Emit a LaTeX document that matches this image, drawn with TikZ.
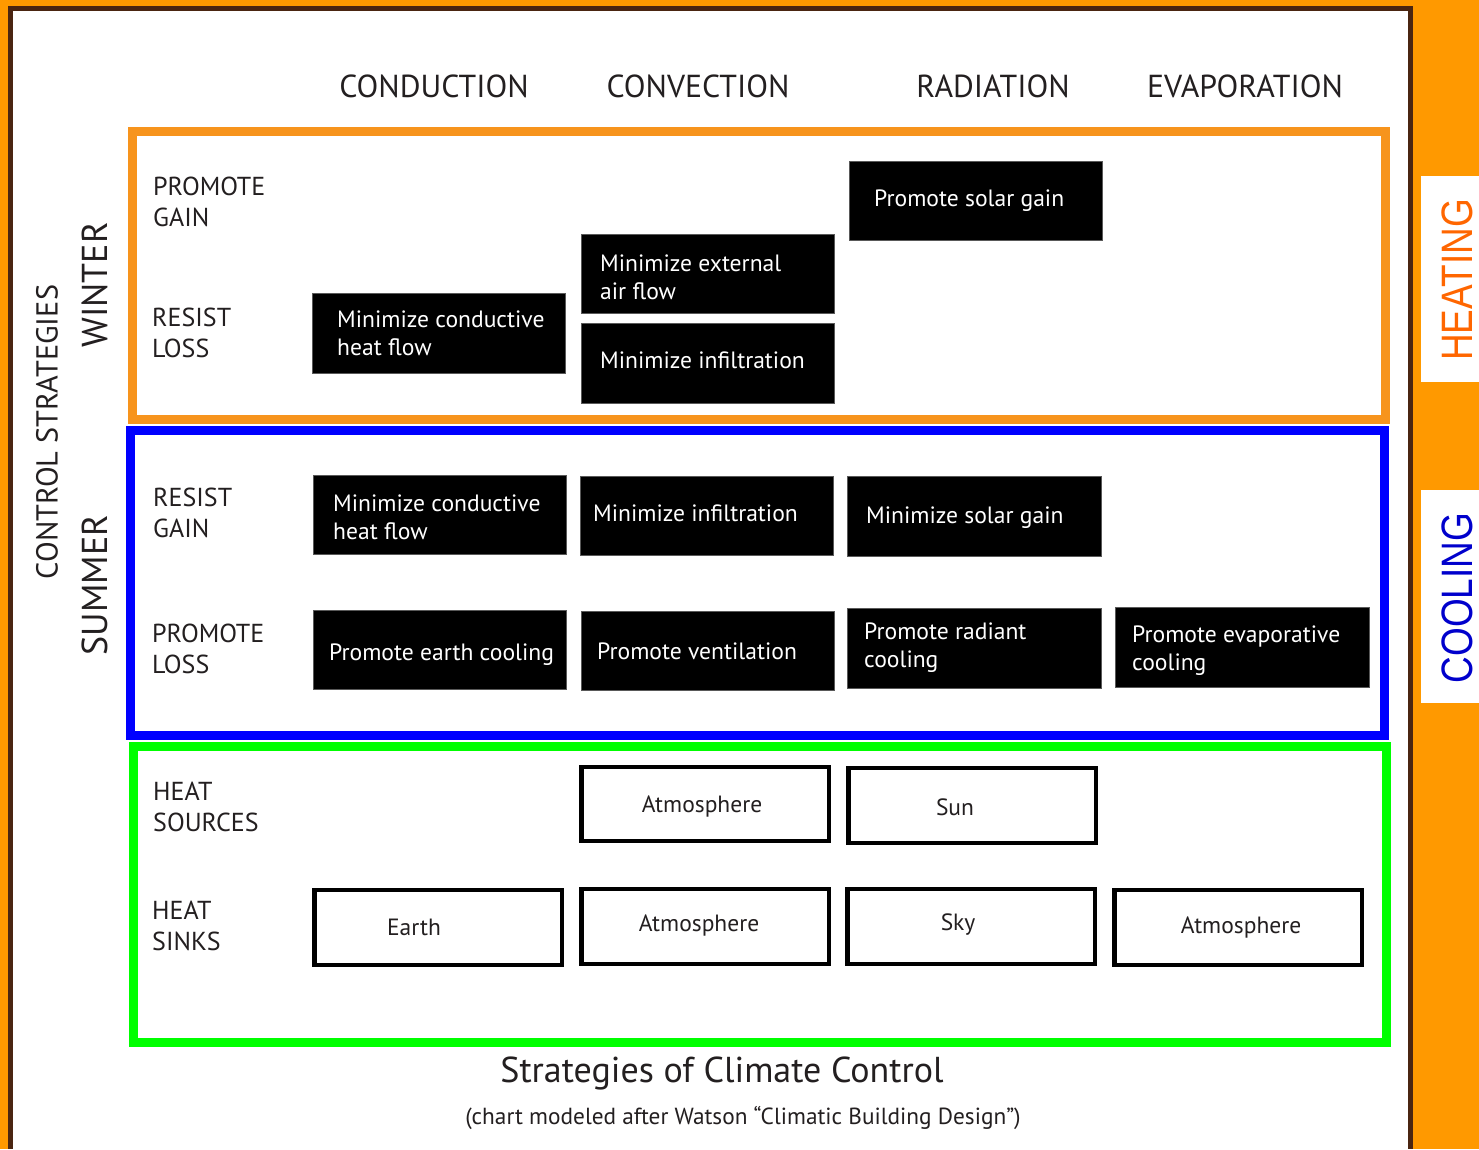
\documentclass[tikz,border=0pt]{standalone}
\usepackage{fontspec}
\setmainfont{PT Sans}
\newfontfamily\arialfont{Liberation Sans}
\usepackage{graphicx}
\definecolor{bgorange}{RGB}{255,153,0}
\definecolor{framebrown}{RGB}{74,37,17}
\definecolor{winterorange}{RGB}{247,148,29}
\definecolor{summerblue}{RGB}{0,0,255}
\definecolor{sinkgreen}{RGB}{0,255,0}
\definecolor{heatcol}{RGB}{255,102,0}
\definecolor{coolcol}{RGB}{0,0,204}
\definecolor{txt}{RGB}{35,31,32}
\begin{document}
\begin{tikzpicture}[x=1pt,y=-1pt,
  blackbox/.style={fill=black, draw=black!65, line width=0.8pt, inner sep=0pt, minimum width=253pt, minimum height=80pt},
  whitebox/.style={fill=white, draw=black, line width=4.5pt, inner sep=0pt, minimum width=247.5pt, minimum height=74pt},
  boxtext/.style={text=white, font=\fontsize{23.6}{28}\selectfont, align=left, anchor=west, inner sep=0pt},
  sinktext/.style={text=txt, font=\fontsize{23.5}{28}\selectfont, inner sep=0pt},
  rowlabel/.style={text=txt, font=\fontsize{26}{31}\selectfont, align=left, anchor=west, inner sep=0pt},
  header/.style={text=txt, font=\fontsize{31.8}{36}\selectfont, inner sep=0pt},
  sidelabel/.style={text=txt, rotate=90, inner sep=0pt},
  section/.style={line width=9pt}
]
% background and frame
\fill[bgorange] (0,0) rectangle (1479,1149);
\fill[framebrown] (8,6) rectangle (1413,1149);
\fill[white] (13,11) rectangle (1408,1149);
% side tabs
\fill[white] (1421,176) rectangle (1479,382);
\fill[white] (1421,490) rectangle (1479,703);
\node[rotate=90, text=heatcol, inner sep=0pt, font=\arialfont\fontsize{44}{50}\selectfont] (heating) at (1457,280) {\scalebox{0.84}[1]{HEATING}};
\node[rotate=90, text=coolcol, inner sep=0pt, font=\arialfont\fontsize{44}{50}\selectfont] (cooling) at (1457,598) {\scalebox{0.84}[1]{COOLING}};
% section frames
\draw[section, winterorange] (132.5,131.5) rectangle (1385.5,419.5);
\draw[section, summerblue] (130.5,430.5) rectangle (1384.5,735.5);
\draw[section, sinkgreen] (133.5,746.5) rectangle (1386.5,1042.5);
% headers
\node[header] (h1) at (434,86) {CONDUCTION};
\node[header] (h2) at (698,86) {CONVECTION};
\node[header] (h3) at (993,86) {RADIATION};
\node[header] (h4) at (1245,86) {EVAPORATION};
% side labels
\node[sidelabel, font=\fontsize{30.3}{36}\selectfont] (cs) at (47,432) {CONTROL STRATEGIES};
\node[sidelabel, font=\fontsize{36}{42}\selectfont] (winter) at (95,285) {WINTER};
\node[sidelabel, font=\fontsize{36}{42}\selectfont] (summer) at (95,585) {SUMMER};
% row labels
\node[rowlabel] (r1) at (153,201.5) {PROMOTE\\GAIN};
\node[rowlabel] (r2) at (152,333) {RESIST\\LOSS};
\node[rowlabel] (r3) at (153,513) {RESIST\\GAIN};
\node[rowlabel] (r4) at (152,649) {PROMOTE\\LOSS};
\node[rowlabel] (r5) at (153,806.5) {HEAT\\SOURCES};
\node[rowlabel] (r6) at (152,926) {HEAT\\SINKS};
% winter boxes
\node[blackbox] (wcond) at (438.5,333) {};
\node[blackbox, minimum height=79pt] (wext) at (707.5,273.5) {};
\node[blackbox] (winf) at (707.5,363) {};
\node[blackbox, minimum height=79pt] (wsolar) at (975.5,200.5) {};
\node[boxtext] (twcond) at (337,333) {Minimize conductive\\heat flow};
\node[boxtext] (twext) at (600,277) {Minimize external\\air flow};
\node[boxtext] (twinf) at (600,360) {Minimize infiltration};
\node[boxtext] (twsolar) at (874,201) {Promote solar gain};
% summer boxes
\node[blackbox, minimum height=79pt] (scond) at (439.5,514.5) {};
\node[blackbox, minimum height=79pt] (sinf) at (706.5,515.5) {};
\node[blackbox, minimum width=254pt] (ssolar) at (974,516) {};
\node[blackbox, minimum height=79pt] (searth) at (439.5,649.5) {};
\node[blackbox, minimum height=79pt] (svent) at (707.5,650.5) {};
\node[blackbox, minimum width=254pt] (srad) at (974,648) {};
\node[blackbox, minimum width=254pt] (sevap) at (1242,647) {};
\node[boxtext] (tscond) at (333,517) {Minimize conductive\\heat flow};
\node[boxtext] (tsinf) at (593,513) {Minimize infiltration};
\node[boxtext] (tssolar) at (866,518) {Minimize solar gain};
\node[boxtext] (tsearth) at (329,655) {Promote earth cooling};
\node[boxtext] (tsvent) at (597,651) {Promote ventilation};
\node[boxtext] (tsrad) at (864,648) {Promote radiant\\cooling};
\node[boxtext] (tsevap) at (1132,651) {Promote evaporative\\cooling};
% sources and sinks
\node[whitebox] (gatm1) at (705,804) {};
\node[whitebox, minimum height=75pt] (gsun) at (972,805.5) {};
\node[whitebox, minimum height=75pt] (gearth) at (438,927.5) {};
\node[whitebox, minimum height=75pt] (gatm2) at (705,926.5) {};
\node[whitebox, minimum height=75pt] (gsky) at (971,926.5) {};
\node[whitebox, minimum height=75pt] (gatm3) at (1238,927.5) {};
\node[sinktext] (tgatm1) at (702,806) {Atmosphere};
\node[sinktext] (tgsun) at (955,807) {Sun};
\node[sinktext] (tgearth) at (414,927) {Earth};
\node[sinktext] (tgatm2) at (699,925) {Atmosphere};
\node[sinktext] (tgsky) at (958,925) {Sky};
\node[sinktext] (tgatm3) at (1241,927) {Atmosphere};
% title
\node[text=txt, inner sep=0pt, font=\fontsize{36}{40}\selectfont] (title) at (722,1073) {Strategies of Climate Control};
\node[text=txt, inner sep=0pt, font=\fontsize{23.3}{26}\selectfont] (subtitle) at (743,1118) {(chart modeled after Watson “Climatic Building Design”)};
\end{tikzpicture}
\end{document}
